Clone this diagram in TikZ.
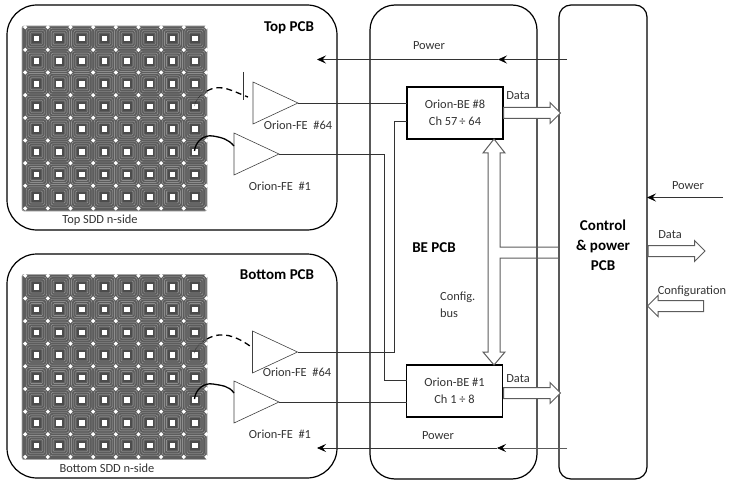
\documentclass[tikz,border=0pt]{standalone}
\usepackage{fontspec}
\setmainfont{Carlito}
\usepackage[usenames,dvipsnames,svgnames,table]{xcolor}
\usepackage{tikz}
\usetikzlibrary{arrows.meta,shapes.geometric,shapes.arrows}

\definecolor{sddgray}{gray}{0.36}
\definecolor{sddring}{gray}{0.66}
\definecolor{busgray}{gray}{0.36}

\tikzset{
	pcb/.style={draw, line width=1.2pt, rounded corners=#1, inner sep=0pt, outer sep=0pt},
	beasic/.style={draw, line width=1.2pt, minimum width=96, minimum height=52, inner sep=0pt, outer sep=0pt, align=center, font=\fontsize{12.4}{15}\selectfont, text=black!80},
	feamp/.style={draw=black!75, line width=.6pt, isosceles triangle, isosceles triangle apex angle=50, isosceles triangle stretches, minimum width=42, minimum height=45, inner sep=0pt, outer sep=0pt, anchor=apex},
	busarrow/.style={draw=busgray, line width=1pt, fill=white, single arrow, inner sep=5pt, single arrow head extend=5pt, anchor=tail},
	sigline/.style={draw=black!80, line width=.6pt},
	powerline/.style={draw=black!80, line width=.7pt, -{Stealth[length=9,width=8,inset=3.5,black]}},
	bond/.style={line width=1.3pt},
	lbl/.style={font=\fontsize{12.4}{15}\selectfont, text=black!80, inner sep=0pt},
	title/.style={font=\fontsize{15}{18}\selectfont\bfseries, inner sep=0pt, align=center}
}

\begin{document}
\begin{tikzpicture}[x=1pt,y=-1pt]
	\useasboundingbox (0,0) rectangle (732,487);

	% boards
	\node[pcb=30, minimum width=330, minimum height=225] (toppcb) at (172,117.5) {};
	\node[pcb=30, minimum width=330, minimum height=224] (botpcb) at (172,366) {};
	\node[pcb=25, minimum width=167, minimum height=474] (bepcb) at (453.5,242) {};
	\node[pcb=12, minimum width=88, minimum height=474] (ctrlpcb) at (603,242) {};

	% the two detectors
	\foreach \oy in {26,274.5} {
		\fill[sddgray, rounded corners=2] (22,\oy) rectangle (207,\oy+185);
		\draw[sddring, line width=.8pt, rounded corners=2] (22,\oy) rectangle (207,\oy+185);
		\foreach \i in {0,...,7} \foreach \j in {0,...,7} {
			\pgfmathsetmacro{\cx}{36.5+22.65*\i}
			\pgfmathsetmacro{\cy}{\oy+12.5+22.65*\j}
			\begin{scope}[shift={(\cx,\cy)}]
				\draw[sddring, line width=.35pt, rounded corners=3] (-10.2,-10.2) rectangle (10.2,10.2);
				\draw[sddring, line width=.35pt, rounded corners=2] (-8,-8) rectangle (8,8);
				\draw[sddring, line width=.35pt, rounded corners=1] (-6,-6) rectangle (6,6);
				\fill[black!70] (-4.6,-4.6) rectangle (4.6,4.6);
				\fill[white] (-2.8,-2.8) rectangle (2.8,2.8);
			\end{scope}
		}
		\foreach \i in {0,...,8} \foreach \j in {0,...,8} {
			\pgfmathsetmacro{\cx}{25.2+22.65*\i}
			\pgfmathsetmacro{\cy}{\oy+1.2+22.65*\j}
			\fill[white] (\cx-2.2,\cy) -- (\cx,\cy-2.2) -- (\cx+2.2,\cy) -- (\cx,\cy+2.2) -- cycle;
		}
	}

	% front end amplifiers
	\node[feamp] (fetopb) at (298,103) {};
	\node[feamp] (fetopa) at (279,154) {};
	\node[feamp] (febotb) at (297.5,352) {};
	\node[feamp] (febota) at (279,402) {};

	% back end asics
	\node[beasic] (betop) at (455,113) {Orion-BE \#8\\[2pt]Ch 57\,÷ 64};
	\node[beasic] (bebot) at (454.5,391) {Orion-BE \#1\\[2pt]Ch 1 ÷ 8};

	% pixels and wire bonds
	\coordinate (celltopb) at (194.5,106);
	\coordinate (celltopa) at (194.5,151);
	\coordinate (cellbotb) at (194.5,353);
	\coordinate (cellbota) at (194.5,399);
	\draw[densely dotted, line width=.5pt] (celltopb) to [out=80,in=215] (207,91);
	\draw[bond, dashed, dash pattern=on 6pt off 4pt] (207,91) to [out=30,in=160] (248,97);
	\draw[bond] (celltopa) to [out=85,in=170] (213,136) to [out=-10,in=130] ([yshift=8pt]fetopa.lower side);
	\draw[densely dotted, line width=.5pt] (cellbotb) to [out=80,in=215] (207,339);
	\draw[bond, dashed, dash pattern=on 6pt off 4pt] (207,339) to [out=30,in=145] (250,346);
	\draw[bond] (cellbota) to [out=85,in=170] (213,384) to [out=-10,in=125] ([yshift=9pt]febota.lower side);
	\coordinate (cuttop) at (243,72);
	\coordinate (cutbot) at (243,100);
	\draw[sigline] (cuttop) -- (cutbot);

	% signal lines
	\draw[sigline] (fetopb.apex) -- (fetopb.apex -| betop.west);
	\draw[sigline] (fetopa.apex) -- ++(105,0) |- (bebot.west |- 0,380);
	\draw[sigline] (febotb.apex) -- ++(96.5,0) |- (betop.west |- 0,121);
	\draw[sigline] (febota.apex) -- (febota.apex -| bebot.west);

	% power lines
	\coordinate (powtopin) at (567,59.5);
	\coordinate (powtopmid) at (498,59.5);
	\coordinate (powtopout) at (317,59.5);
	\coordinate (powbotin) at (567,448);
	\coordinate (powbotmid) at (497,448);
	\coordinate (powbotout) at (317,448);
	\coordinate (powext) at (723,197.5);
	\draw[powerline] (powtopin) -- (powtopmid);
	\draw[powerline] (powtopmid) -- (powtopout);
	\draw[powerline, draw=busgray] (powbotin) -- (powbotmid);
	\draw[powerline] (powbotmid) -- (powbotout);
	\draw[powerline] (powext) -- (ctrlpcb.east |- powext);

	% data and configuration arrows
	\node[busarrow, minimum height=57] (datatop) at (503,113) {};
	\node[busarrow, minimum height=57] (databot) at (503,393) {};
	\node[busarrow, minimum height=57] (dataext) at (647.5,251) {};
	\node[busarrow, minimum height=56, shape border rotate=180] (confext) at (704,306) {};

	% configuration bus
	\coordinate (bustop) at (494,139);
	\coordinate (busbot) at (494,365);
	\draw[busgray, line width=1pt, line join=miter]
		(ctrlpcb.west |- 0,247) -- (500,247) -- (500,153) -- (505,153) -- (bustop) -- (483,153) -- (488,153) -- (488,352) -- (483,352) -- (busbot) -- (505,352) -- (500,352) -- (500,258) -- (ctrlpcb.west |- 0,258);

	% labels
	\node[title] (ttop) at (289,28) {Top PCB};
	\node[title] (tbot) at (277,275) {Bottom PCB};
	\node[title] (tbe) at (434,248) {BE PCB};
	\node[title] (tctrl) at (603,245) {Control\\[2pt]\&\ power\\[2pt]PCB};
	\node[lbl] (lfetopb) at (298,125) {Orion-FE\ \ \#64};
	\node[lbl] (lfetopa) at (280,186) {Orion-FE\ \ \#1};
	\node[lbl] (lfebotb) at (297,372) {Orion-FE\ \ \#64};
	\node[lbl] (lfebota) at (280,434) {Orion-FE\ \ \#1};
	\node[lbl] (lsddtop) at (100,220) {Top SDD n-side};
	\node[lbl] (lsddbot) at (107,468) {Bottom SDD n-side};
	\node[lbl] (lpowtop) at (429,46) {Power};
	\node[lbl] (lpowbot) at (438,436) {Power};
	\node[lbl] (lpowext) at (688,186) {Power};
	\node[lbl] (ldatatop) at (518,96) {Data};
	\node[lbl] (ldatabot) at (518,379) {Data};
	\node[lbl] (ldataext) at (670,235) {Data};
	\node[lbl] (lconf) at (692,291) {Configuration};
	\node[lbl, align=left, anchor=west] (lbus) at (440,305) {Config.\\[2pt]bus};
\end{tikzpicture}
\end{document}
